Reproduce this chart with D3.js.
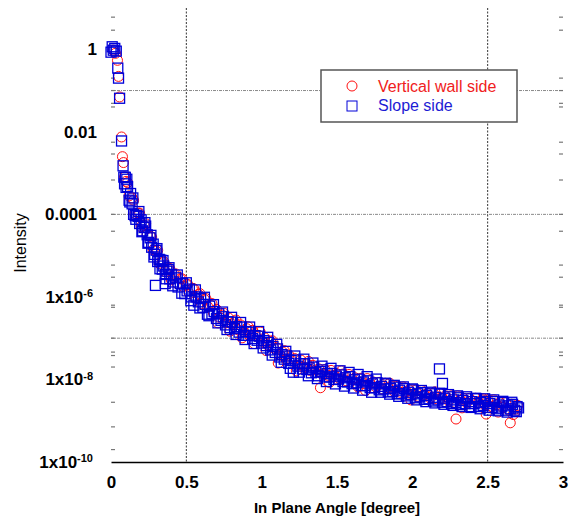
<!DOCTYPE html>
<html>
<head>
<meta charset="utf-8">
<script src="https://cdnjs.cloudflare.com/ajax/libs/d3/7.8.5/d3.min.js"></script>
<style>
  body { margin: 0; background: #fff; }
  text { font-family: "Liberation Sans", Arial, sans-serif; }
</style>
</head>
<body>
<div id="chart"></div>
<script>
// intensity vs in plane angle, log scale
var svgWidth = 575;
var svgHeight = 520;
var margin = {top: 8, right: 12, bottom: 58, left: 111};
var width = svgWidth - margin.left - margin.right;
var height = svgHeight - margin.top - margin.bottom;

// data [angle (degree), intensity]
var wallSide = [
  [0.015,0.95],[0.03,0.8],[0.043,0.54],[0.05,0.22],[0.057,0.07],[0.07,0.0075],[0.076,0.0025],[0.083,0.0018],[0.09,8.0e-4],
  [0.10,6.3e-4],[0.12,2.8e-4],[0.14,2.5e-4],[0.16,1.05e-4],[0.18,1.07e-4],[0.20,5.0e-5],[0.22,5.4e-5],[0.24,3.2e-5],[0.26,3.0e-5],
  [0.28,1.38e-5],[0.30,1.29e-5],[0.32,6.5e-6],[0.34,7.1e-6],[0.36,4.1e-6],[0.38,4.8e-6],[0.40,2.6e-6],[0.42,3.5e-6],[0.44,2.1e-6],
  [0.46,2.75e-6],[0.48,1.8e-6],[0.50,2.0e-6],[0.52,1.2e-6],[0.54,1.6e-6],[0.56,9.5e-7],[0.58,1.15e-6],[0.60,6.9e-7],[0.62,8.7e-7],
  [0.64,6.0e-7],[0.66,6.3e-7],[0.68,4.1e-7],[0.70,5.0e-7],[0.72,3.2e-7],[0.74,3.6e-7],[0.76,2.4e-7],[0.78,3.1e-7],[0.80,2.2e-7],
  [0.82,2.45e-7],[0.84,1.62e-7],[0.86,2.1e-7],[0.88,1.45e-7],[0.90,1.7e-7],[0.92,1.15e-7],[0.94,1.55e-7],[0.96,1.12e-7],[0.98,1.17e-7],
  [1.00,8.5e-8],[1.02,1.02e-7],[1.04,6.8e-8],[1.06,8.3e-8],[1.08,5.8e-8],[1.10,5.8e-8],[1.11,2.5e-8],[1.12,3.9e-8],[1.14,4.6e-8],
  [1.16,3.1e-8],[1.18,3.9e-8],[1.20,2.8e-8],[1.22,3.2e-8],[1.24,2.2e-8],[1.26,2.95e-8],[1.28,2.0e-8],[1.30,2.4e-8],[1.32,1.66e-8],
  [1.34,2.2e-8],[1.36,1.7e-8],[1.38,1.8e-8],[1.39,6.3e-9],[1.40,1.35e-8],[1.42,1.74e-8],[1.44,1.26e-8],[1.46,1.66e-8],[1.48,1.26e-8],
  [1.50,1.38e-8],[1.52,1.02e-8],[1.54,1.35e-8],[1.56,9.3e-9],[1.58,1.32e-8],[1.60,1.0e-8],[1.62,1.1e-8],[1.64,6.6e-9],[1.66,1.07e-8],
  [1.68,7.9e-9],[1.70,1.05e-8],[1.72,7.9e-9],[1.74,8.7e-9],[1.76,6.5e-9],[1.78,8.5e-9],[1.80,5.9e-9],[1.82,8.1e-9],[1.84,6.3e-9],
  [1.86,6.9e-9],[1.88,5.1e-9],[1.90,6.8e-9],[1.92,4.9e-9],[1.94,6.6e-9],[1.96,5.0e-9],[1.98,5.6e-9],[2.00,4.2e-9],[2.02,5.5e-9],
  [2.04,3.9e-9],[2.06,5.4e-9],[2.08,4.2e-9],[2.10,4.6e-9],[2.12,3.5e-9],[2.14,4.6e-9],[2.16,3.4e-9],[2.18,4.6e-9],[2.20,3.5e-9],
  [2.22,4.0e-9],[2.24,3.0e-9],[2.26,4.0e-9],[2.28,2.8e-9],[2.29,1.1e-9],[2.30,4.0e-9],[2.32,3.1e-9],[2.34,3.5e-9],[2.36,2.7e-9],
  [2.38,3.5e-9],[2.40,2.6e-9],[2.42,3.5e-9],[2.44,2.75e-9],[2.46,3.2e-9],[2.48,2.4e-9],[2.49,1.45e-9],[2.50,3.2e-9],[2.52,2.25e-9],
  [2.54,3.2e-9],[2.56,2.45e-9],[2.58,2.75e-9],[2.60,2.1e-9],[2.62,2.75e-9],[2.64,1.8e-9],[2.65,8.9e-10],[2.66,2.5e-9],[2.68,1.9e-9],
  [2.70,2.35e-9],
  [0.11,5.9e-4],[0.15,2.2e-4],[0.19,1.07e-4],[0.23,5.9e-5],[0.27,2.8e-5],[0.31,1.35e-5],[0.35,7.1e-6],[0.39,4.9e-6],[0.43,3.6e-6],
  [0.47,2.75e-6],[0.51,2.0e-6],[0.55,1.58e-6],[0.59,1.2e-6],[0.63,9.1e-7],[0.67,6.9e-7],[0.71,2.35e-7],[0.75,4.0e-7],[0.79,1.48e-7],
  [0.83,2.75e-7],[0.87,1.02e-7],[0.91,1.9e-7],[0.95,7.4e-8],[0.99,1.41e-7],[1.03,5.0e-8],[1.07,8.7e-8],[1.15,5.0e-8],[1.23,1.62e-8],
  [1.31,2.75e-8],[1.45,8.5e-9],[1.53,1.62e-8],[1.69,5.4e-9],[1.85,8.1e-9],[1.99,3.2e-9],[2.15,5.0e-9],[2.33,2.05e-9],[2.47,3.4e-9],
  [2.57,1.62e-9],[2.67,1.41e-9]
];
var slopeSide = [
  [0.0,0.85],[0.008,1.15],[0.015,0.95],[0.025,1.05],[0.035,0.9],[0.045,0.35],[0.05,0.2],[0.057,0.065],[0.07,0.006],[0.08,0.0015],
  [0.085,8e-4],[0.09,5.5e-4],[0.095,7.9e-4],[0.10,4.5e-4],[0.11,4.7e-4],[0.12,2.2e-4],[0.13,3.2e-4],[0.14,1.8e-4],[0.15,1.0e-4],
  [0.16,9.3e-5],[0.17,9.5e-5],[0.18,8.9e-5],[0.19,6.0e-5],[0.20,7.4e-5],[0.21,4.0e-5],[0.22,4.8e-5],[0.23,5.2e-5],[0.24,3.2e-5],
  [0.25,2.1e-5],[0.26,2.7e-5],[0.27,1.6e-5],[0.28,1.9e-5],[0.29,1.07e-5],[0.295,1.9e-6],[0.30,1.35e-5],[0.31,7.2e-6],[0.32,8.1e-6],
  [0.33,7.8e-6],[0.34,4.7e-6],[0.35,5.6e-6],[0.36,3.5e-6],[0.36,2.1e-6],[0.37,4.2e-6],[0.38,4.6e-6],[0.39,2.75e-6],[0.40,3.5e-6],
  [0.415,2.3e-6],[0.43,2.9e-6],[0.445,1.74e-6],[0.46,2.1e-6],[0.475,2.1e-6],[0.49,1.2e-6],[0.505,1.4e-6],[0.52,1.55e-6],[0.535,1.0e-6],
  [0.55,6.3e-7],[0.565,1.0e-6],[0.58,7.6e-7],[0.595,9.1e-7],[0.61,5.6e-7],[0.625,6.6e-7],[0.64,3.8e-7],[0.655,6.0e-7],[0.67,3.9e-7],
  [0.685,4.4e-7],[0.70,3.0e-7],[0.715,3.9e-7],[0.73,2.7e-7],[0.745,3.3e-7],[0.76,2.1e-7],[0.775,2.5e-7],[0.79,1.8e-7],[0.805,2.45e-7],
  [0.82,1.7e-7],[0.835,1.9e-7],[0.85,1.4e-7],[0.865,1.86e-7],[0.88,1.17e-7],[0.895,1.45e-7],[0.91,1.17e-7],[0.925,1.4e-7],[0.94,9.8e-8],
  [0.955,1.15e-7],[0.97,8.9e-8],[0.985,1.12e-7],[1.00,7.6e-8],[1.015,8.7e-8],[1.03,6.6e-8],[1.045,7.9e-8],[1.06,5.2e-8],[1.075,6.3e-8],
  [1.09,4.5e-8],[1.105,5.5e-8],[1.12,3.5e-8],[1.135,4.0e-8],[1.15,3.1e-8],[1.165,3.7e-8],[1.18,2.45e-8],[1.195,2.9e-8],[1.21,1.5e-8],
  [1.225,2.95e-8],[1.24,2.1e-8],[1.255,2.4e-8],[1.27,1.8e-8],[1.285,2.4e-8],[1.30,1.74e-8],[1.315,1.9e-8],[1.33,1.45e-8],[1.345,2.0e-8],
  [1.36,1.5e-8],[1.375,1.23e-8],[1.39,1.55e-8],[1.405,1.7e-8],[1.42,1.15e-8],[1.435,1.38e-8],[1.45,1.15e-8],[1.465,1.4e-8],[1.48,1.0e-8],
  [1.495,1.2e-8],[1.51,1.02e-8],[1.525,1.29e-8],[1.54,8.9e-9],[1.555,1.1e-8],[1.57,8.7e-9],[1.585,1.17e-8],[1.60,7.9e-9],[1.615,9.8e-9],
  [1.63,8.3e-9],[1.645,1.02e-8],[1.66,7.1e-9],[1.675,8.7e-9],[1.69,7.1e-9],[1.705,9.3e-9],[1.72,6.3e-9],[1.735,7.8e-9],[1.75,6.3e-9],
  [1.765,8.3e-9],[1.78,5.6e-9],[1.795,6.8e-9],[1.81,5.9e-9],[1.825,7.8e-9],[1.84,5.0e-9],[1.855,6.0e-9],[1.87,5.1e-9],[1.885,6.5e-9],
  [1.90,4.5e-9],[1.915,5.5e-9],[1.93,4.5e-9],[1.945,6.0e-9],[1.96,4.0e-9],[1.975,4.9e-9],[1.99,4.3e-9],[2.005,5.6e-9],[2.02,3.6e-9],
  [2.035,4.5e-9],[2.05,3.8e-9],[2.065,4.8e-9],[2.08,3.3e-9],[2.095,4.1e-9],[2.11,3.4e-9],[2.125,4.5e-9],[2.14,3.0e-9],[2.155,3.7e-9],
  [2.17,3.2e-9],[2.18,1.8e-8],[2.185,4.4e-9],[2.20,2.8e-9],[2.20,8.0e-9],[2.215,3.5e-9],[2.23,2.9e-9],[2.245,3.8e-9],[2.26,2.6e-9],
  [2.275,3.2e-9],[2.29,2.75e-9],[2.305,3.6e-9],[2.32,2.45e-9],[2.335,3.1e-9],[2.35,2.6e-9],[2.365,3.4e-9],[2.38,2.2e-9],[2.395,2.9e-9],
  [2.41,2.6e-9],[2.425,3.4e-9],[2.44,2.2e-9],[2.455,2.75e-9],[2.47,2.35e-9],[2.485,2.95e-9],[2.50,2.1e-9],[2.515,2.6e-9],[2.53,2.1e-9],
  [2.545,2.9e-9],[2.56,1.95e-9],[2.575,2.4e-9],[2.59,2.15e-9],[2.605,2.75e-9],[2.62,1.8e-9],[2.635,2.3e-9],[2.65,1.95e-9],[2.665,2.5e-9],
  [2.68,1.8e-9],[2.695,2.2e-9],[2.705,2.05e-9],
  [0.105,7.1e-4],[0.125,2.0e-4],[0.145,2.5e-4],[0.165,7.6e-5],[0.185,1.17e-4],[0.205,3.8e-5],[0.225,6.3e-5],[0.245,2.0e-5],
  [0.265,3.1e-5],[0.285,9.3e-6],[0.305,1.48e-5],[0.325,4.8e-6],[0.345,7.6e-6],[0.365,2.75e-6],[0.385,5.1e-6],[0.41,1.86e-6],
  [0.44,3.4e-6],[0.47,1.23e-6],[0.50,2.2e-6],[0.53,8.1e-7],[0.56,1.48e-6],[0.59,5.4e-7],[0.62,9.8e-7],[0.65,3.5e-7],[0.68,6.5e-7],
  [0.71,2.35e-7],[0.74,4.3e-7],[0.77,1.62e-7],[0.80,3.2e-7],[0.83,1.23e-7],[0.86,2.4e-7],[0.89,9.3e-8],[0.92,1.86e-7],[0.95,7.4e-8],
  [0.98,1.45e-7],[1.01,5.8e-8],[1.04,1.05e-7],[1.07,3.9e-8],[1.10,7.1e-8],[1.13,2.6e-8],[1.16,4.8e-8],[1.19,1.86e-8],[1.22,3.7e-8],
  [1.25,1.5e-8],[1.28,3.1e-8],[1.31,1.23e-8],[1.34,2.5e-8],[1.37,1.05e-8],[1.40,2.1e-8],[1.43,8.9e-9],[1.46,1.86e-8],[1.49,7.8e-9],
  [1.52,1.62e-8],[1.55,6.9e-9],[1.58,1.48e-8],[1.61,6.2e-9],[1.64,1.32e-8],[1.67,5.5e-9],[1.70,1.17e-8],[1.73,4.9e-9],[1.76,1.02e-8],
  [1.79,4.9e-9],[1.82,8.1e-9],[1.85,4.4e-9],[1.88,7.2e-9],[1.91,3.9e-9],[1.94,6.6e-9],[1.97,3.5e-9],[2.00,5.9e-9],[2.03,3.2e-9],
  [2.06,5.4e-9],[2.09,2.9e-9],[2.12,4.9e-9],[2.15,2.7e-9],[2.18,4.6e-9],[2.21,2.5e-9],[2.24,4.3e-9],[2.27,2.35e-9],[2.30,4.0e-9],
  [2.33,2.2e-9],[2.36,3.8e-9],[2.39,2.1e-9],[2.42,3.5e-9],[2.45,1.95e-9],[2.48,3.4e-9],[2.51,1.8e-9],[2.54,3.2e-9],[2.57,1.74e-9],
  [2.60,2.95e-9],[2.63,1.62e-9],[2.66,2.8e-9],[2.69,1.66e-9]
];

// axes ticks and grid
var xTickValues = [0, 0.5, 1, 1.5, 2, 2.5, 3];
var yTickValues = [1, 0.01, 0.0001, 1e-6, 1e-8, 1e-10];
var yTickLabels = ["1", "0.01", "0.0001", "1x10^-6", "1x10^-8", "1x10^-10"];
var xGridValues = [0.5, 2.5];
var yGridValues = [0.1, 1e-4, 1e-7];
var yMinorTicks = [6.0, 2.9, 0.2, 0.049, 0.04, 0.0056, 0.0029, 0.00068, 3.9e-5, 5.9e-6, 3.0e-6,
  6.3e-7, 5.6e-7, 4.6e-8, 3.8e-8, 2.0e-8, 2.8e-9, 7.1e-10, 2.0e-10];
var seriesNames = ["Vertical wall side", "Slope side"];

// SVG
var svg = d3.select("#chart")
  .append("svg")
  .attr("width", svgWidth)
  .attr("height", svgHeight);
var chartGroup = svg.append("g")
  .attr("transform", `translate(${margin.left}, ${margin.top})`);

// scales
var xScale = d3.scaleLinear()
  .domain([0, 3])
  .range([0, width]);
var yScale = d3.scaleLog()
  .domain([1e-10, 10])
  .range([height, 0]);

// grid
chartGroup.selectAll("line.hgrid")
  .data(yGridValues)
  .enter()
  .append("line")
  .attr("class", "hgrid")
  .attr("x1", 0)
  .attr("x2", width)
  .attr("y1", d => yScale(d))
  .attr("y2", d => yScale(d))
  .attr("stroke", "#8a8a8a")
  .attr("stroke-dasharray", "3,1,1,1");
chartGroup.selectAll("line.vgrid")
  .data(xGridValues)
  .enter()
  .append("line")
  .attr("class", "vgrid")
  .attr("x1", d => xScale(d))
  .attr("x2", d => xScale(d))
  .attr("y1", 0)
  .attr("y2", height)
  .attr("stroke", "#333")
  .attr("stroke-dasharray", "2,1.5");

// minor ticks, both sides
[0, width].forEach(function(side) {
  var dir = side === 0 ? 1 : -1;
  chartGroup.selectAll(null)
    .data(yMinorTicks.concat(yGridValues))
    .enter()
    .append("line")
    .attr("x1", side)
    .attr("x2", side + dir * 4)
    .attr("y1", d => yScale(d))
    .attr("y2", d => yScale(d))
    .attr("stroke", "#777")
    .attr("stroke-width", 1.2);
});

// points: circles first, squares on top
chartGroup.selectAll("circle.wall")
  .data(wallSide)
  .enter()
  .append("circle")
  .attr("class", "wall")
  .attr("cx", d => xScale(d[0]))
  .attr("cy", d => yScale(d[1]))
  .attr("r", 5)
  .attr("fill", "none")
  .attr("stroke", "#ff1010")
  .attr("stroke-width", 1);
chartGroup.selectAll("rect.slope")
  .data(slopeSide)
  .enter()
  .append("rect")
  .attr("class", "slope")
  .attr("x", d => xScale(d[0]) - 5)
  .attr("y", d => yScale(d[1]) - 5)
  .attr("width", 10)
  .attr("height", 10)
  .attr("fill", "none")
  .attr("stroke", "#0000d8")
  .attr("stroke-width", 1.3);

// axes
var bottomAxis = d3.axisBottom(xScale)
  .tickValues(xTickValues)
  .tickSize(0)
  .tickPadding(14)
  .tickFormat(d => d);
var xAxisG = chartGroup.append("g")
  .attr("transform", `translate(0, ${height})`)
  .call(bottomAxis);
xAxisG.select(".domain").attr("stroke", "#000").attr("stroke-width", 1.5);
xAxisG.selectAll("text")
  .attr("font-family", "'Liberation Sans', Arial, sans-serif")
  .attr("font-size", "17px")
  .attr("font-weight", "bold")
  .attr("fill", "#000");

var leftAxis = d3.axisLeft(yScale)
  .tickValues(yTickValues)
  .tickSize(0)
  .tickPadding(14)
  .tickFormat((d, i) => yTickLabels[i]);
var yAxisG = chartGroup.append("g")
  .call(leftAxis);
yAxisG.select(".domain").remove();
yAxisG.selectAll("text")
  .attr("font-family", "'Liberation Sans', Arial, sans-serif")
  .attr("font-size", "17px")
  .attr("font-weight", "bold")
  .attr("fill", "#000")
  .each(function() {
    var t = d3.select(this);
    var parts = t.text().split("^");
    if (parts.length > 1) {
      t.text(parts[0]).attr("x", -18);
      t.append("tspan")
        .attr("dy", "-0.5em")
        .attr("font-size", "11px")
        .text(parts[1]);
    }
  });

// axes labels
chartGroup.append("text")
  .attr("transform", "rotate(-90)")
  .attr("x", 0 - (height / 2) - 8)
  .attr("y", 0 - margin.left + 26)
  .attr("text-anchor", "middle")
  .attr("font-size", "16px")
  .attr("fill", "#000")
  .text("Intensity");
chartGroup.append("text")
  .attr("x", width / 2)
  .attr("y", height + 51)
  .attr("text-anchor", "middle")
  .attr("font-size", "15px")
  .attr("font-weight", "bold")
  .attr("fill", "#000")
  .text("In Plane Angle [degree]");

// legend
var legend = svg.append("g")
  .attr("transform", "translate(321, 70)");
legend.append("rect")
  .attr("width", 196)
  .attr("height", 52)
  .attr("fill", "#fff")
  .attr("stroke", "#555")
  .attr("stroke-width", 1.5);
legend.append("circle")
  .attr("cx", 31)
  .attr("cy", 16)
  .attr("r", 5)
  .attr("fill", "none")
  .attr("stroke", "#ff1010");
legend.append("rect")
  .attr("x", 26)
  .attr("y", 31)
  .attr("width", 10)
  .attr("height", 10)
  .attr("fill", "none")
  .attr("stroke", "#0000d8");
legend.selectAll("text")
  .data(seriesNames)
  .enter()
  .append("text")
  .attr("x", 57)
  .attr("y", (d, i) => 22 + i * 19)
  .attr("font-size", "16px")
  .attr("fill", (d, i) => i === 0 ? "#f02020" : "#1c1cd4")
  .text(d => d);
</script>
</body>
</html>
